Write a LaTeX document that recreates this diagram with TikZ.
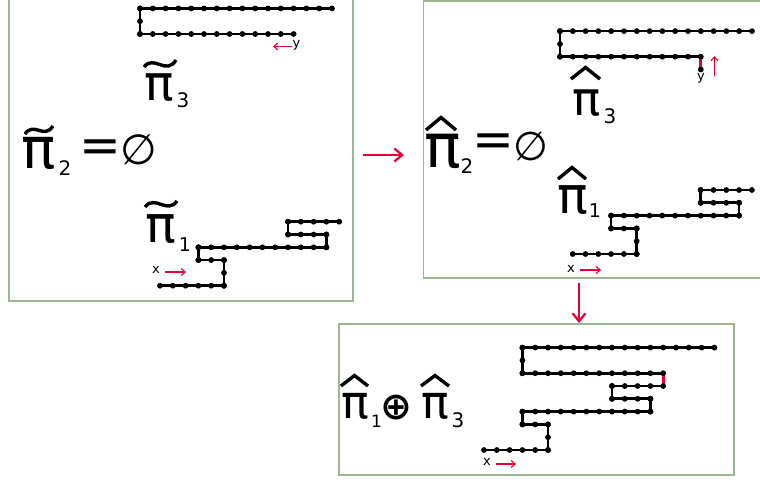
\documentclass[tikz,border=0pt]{standalone}
\usepackage{fontspec}
\newfontfamily\djs{DejaVu Sans}
\usetikzlibrary{arrows.meta}
\definecolor{frame}{RGB}{158,182,142}
\definecolor{hl}{RGB}{232,0,52}
\newcommand\lpath[1]{%
  \foreach \xa/\ya [remember=\xa as \xp (initially 999), remember=\ya as \yp (initially 999)] in {#1}{%
    \ifnum\xp=999\relax\else
      \draw[lpl] (\xp,\yp) -- (\xa,\ya);
      \pgfmathtruncatemacro\nn{max(abs(\xa-\xp),abs(\ya-\yp))}%
      \foreach \k in {0,...,\nn}{\fill ({\xp+(\xa-\xp)*\k/\nn},{\yp+(\ya-\yp)*\k/\nn}) circle[radius=2.9pt];}%
    \fi}}
\begin{document}
\begin{tikzpicture}[x=1pt,y=-1pt,
  panel/.style={draw=frame, line width=1.2pt, inner sep=0},
  lpl/.style={line width=2.7pt, line cap=round},
  redseg/.style={line width=2.7pt, draw=hl},
  gl/.style={inner sep=0, font=\djs\fontsize{#1}{#1}\selectfont},
  acc/.style={line width=3.4pt, line cap=butt, line join=miter},
  bigarr/.style={draw=hl, line width=2.2pt, -{Straight Barb[length=8pt,width=13pt,line width=2.2pt]}},
  smallarr/.style={draw=hl, line width=1.1pt, -{Straight Barb[length=4pt,width=7pt,line width=1.1pt]}}]
\useasboundingbox (0,0) rectangle (760,483);
\clip (0,0) rectangle (760,483);
% panels
\node[panel, minimum width=344pt, minimum height=311pt] (P1) at (181,145.5) {};
\node[panel, minimum width=356.5pt, minimum height=277pt] (P2) at (601.75,139.5) {};
\node[panel, minimum width=395pt, minimum height=151pt] (P3) at (536.5,399.5) {};
% big arrows
\coordinate (r1) at (363,155); \coordinate (r2) at (404,155);
\draw[bigarr] (r1) -- (r2);
\coordinate (d1) at (579,283); \coordinate (d2) at (579,323);
\draw[bigarr] (d1) -- (d2);

% ===== panel 1 =====
\begin{scope}[shift={(140pt,-34pt)}, x=12.8pt, y=12.8pt]
  \lpath{12/0,0/0,0/2,15/2}
\end{scope}
\begin{scope}[shift={(160pt,-285.7pt)}, x=12.8pt, y=12.8pt]
  \lpath{0/0,5/0,5/2,3/2,3/3,13/3,13/4,10/4,10/5,14/5}
\end{scope}
\node[gl=13, anchor=base] (y1) at (296.5,47.5) {y};
\coordinate (ya1) at (292,46.5); \coordinate (yb1) at (273,46.5);
\draw[smallarr] (ya1) -- (yb1);
\node[gl=13, anchor=base] (x1) at (156,273) {x};
\coordinate (xa1) at (165,272); \coordinate (xb1) at (186,272);
\draw[smallarr] (xa1) -- (xb1);
% pi tilde 3
\node[gl=49, anchor=base] (t3) at (159.5,100) {π};
\node[gl=20, anchor=base] (t3s) at (183,107) {3};
\draw[acc] (144,67) .. controls (154,54) and (166,76) .. (176,60);
% pi tilde 2 = empty
\node[gl=57, anchor=base] (t2) at (39,168) {π};
\node[gl=20, anchor=base] (t2s) at (65,175) {2};
\draw[acc] (25,134) .. controls (34,121) and (44,140) .. (53,126);
\node[gl=50, anchor=center] (eq1) at (100.5,151) {=};
\node[gl=42, anchor=center] (em1) at (138.5,150) {∅};
% pi tilde 1
\node[gl=51, anchor=base] (t1) at (161,242) {π};
\node[gl=19, anchor=base] (t1s) at (185,251) {1};
\draw[acc] (145,207) .. controls (155,194) and (167,215) .. (177,201);

% ===== panel 2 =====
\draw[redseg] (700.8,56.7) -- (700.8,69.5);
\begin{scope}[shift={(560pt,-56.7pt)}, x=12.8pt, y=12.8pt]
  \fill (11,-1) circle[radius=2.9pt];
  \lpath{11/0,0/0,0/2,15/2}
\end{scope}
\begin{scope}[shift={(572.7pt,-254pt)}, x=12.8pt, y=12.8pt]
  \lpath{0/0,5/0,5/2,3/2,3/3,13/3,13/4,10/4,10/5,14/5}
\end{scope}
\node[gl=13, anchor=base] (y2) at (701,80) {y};
\coordinate (ya2) at (714.5,76); \coordinate (yb2) at (714.5,56);
\draw[smallarr] (ya2) -- (yb2);
\node[gl=13, anchor=base] (x2) at (571,272) {x};
\coordinate (xa2) at (580,270); \coordinate (xb2) at (601,270);
\draw[smallarr] (xa2) -- (xb2);
% hat pi 3
\node[gl=47, anchor=base] (h3) at (586.5,115) {π};
\node[gl=20, anchor=base] (h3s) at (610,123) {3};
\draw[acc] (571,79) -- (585.5,67.5) -- (600,79);
% hat pi 2 = empty
\node[gl=61, anchor=base] (h2) at (442.5,167) {π};
\node[gl=20, anchor=base] (h2s) at (467,173) {2};
\draw[acc] (426,130) -- (441,117.5) -- (456,130);
\node[gl=50, anchor=center] (eq2) at (493,145.5) {=};
\node[gl=40, anchor=center] (em2) at (530.5,146.5) {∅};
% hat pi 1
\node[gl=51, anchor=base] (h1) at (572.5,213) {π};
\node[gl=19, anchor=base] (h1s) at (595,217) {1};
\draw[acc] (558,179) -- (572,167.5) -- (586,179);

% ===== panel 3 =====
\draw[redseg] (663.2,386) -- (663.2,373.2);
\begin{scope}[shift={(484pt,-450pt)}, x=12.8pt, y=12.8pt]
  \lpath{0/0,5/0,5/2,3/2,3/3,13/3,13/4,10/4,10/5,14/5}
  \lpath{14/6,3/6,3/8,18/8}
\end{scope}
\node[gl=13, anchor=base] (x3) at (487,465) {x};
\coordinate (xa3) at (496,464); \coordinate (xb3) at (516,464);
\draw[smallarr] (xa3) -- (xb3);
\node[gl=46, anchor=base] (c1) at (355,418) {π};
\node[gl=17, anchor=base] (c1s) at (376.5,427) {1};
\draw[acc] (341,386) -- (354.5,375.5) -- (368,386);
\node[inner sep=0, anchor=center, font=\djs\bfseries\fontsize{38}{38}\selectfont] (op) at (396.5,407.5) {⊕};
\node[gl=46, anchor=base] (c3) at (435,418) {π};
\node[gl=20, anchor=base] (c3s) at (458,427) {3};
\draw[acc] (421,386) -- (435,375.5) -- (449,386);
\end{tikzpicture}
\end{document}
